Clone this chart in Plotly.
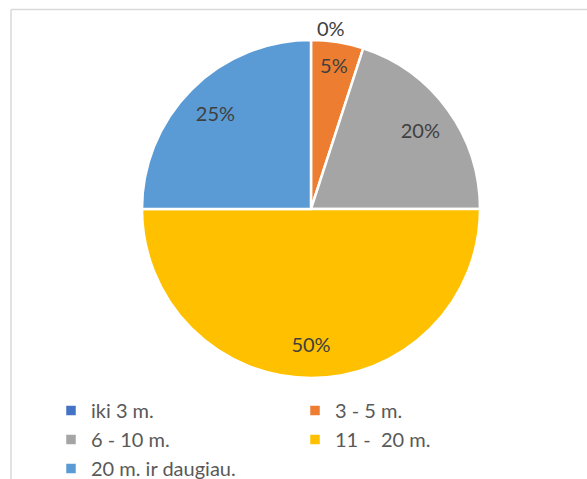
import plotly.graph_objects as go

labels = ["iki 3 m.", "3 - 5 m.", "6 - 10 m.", "11 -  20 m.", "20 m. ir daugiau."]
values = [0, 5, 20, 50, 25]
colors = ["#4472C4", "#ED7D31", "#A5A5A5", "#FFC000", "#5B9BD5"]

W, H = 587, 479
cx, cy, half = 311, 209, 169
domain = dict(x=[(cx - half) / W, (cx + half) / W], y=[1 - (cy + half) / H, 1 - (cy - half) / H])
label_font = dict(family="Lato, Carlito, sans-serif", size=20, color="#404040")

fig = go.Figure()
# main pie (slices + outside label for zero slice)
fig.add_trace(go.Pie(
    labels=labels,
    values=values,
    sort=False,
    direction="clockwise",
    rotation=0,
    marker=dict(colors=colors, line=dict(color="white", width=2.5)),
    texttemplate="%{value}%",
    textposition=["outside", "none", "none", "none", "none"],
    textfont=label_font,
    domain=domain,
    hoverinfo="label+percent",
))
# transparent ring carrying the inside labels further out, like the original
fig.add_trace(go.Pie(
    labels=labels,
    values=values,
    sort=False,
    direction="clockwise",
    rotation=0,
    hole=0.6,
    marker=dict(colors=["rgba(0,0,0,0)"] * len(values), line=dict(width=0)),
    texttemplate="%{value}%",
    textposition=["none", "inside", "inside", "inside", "inside"],
    insidetextorientation="horizontal",
    textfont=label_font,
    domain=domain,
    showlegend=False,
    hoverinfo="skip",
))

fig.update_layout(
    width=W, height=H,
    margin=dict(l=0, r=0, t=0, b=0, autoexpand=False),
    paper_bgcolor="white",
    plot_bgcolor="white",
    font=dict(family="Lato, Carlito, sans-serif", color="#595959"),
    showlegend=True,
    legend=dict(
        orientation="h",
        x=51 / W, xanchor="left",
        y=1 - 391 / H, yanchor="top",
        entrywidth=199, entrywidthmode="pixels",
        font=dict(size=20, color="#595959"),
        bgcolor="rgba(0,0,0,0)",
        traceorder="normal",
    ),
    shapes=[
        dict(type="line", xref="paper", yref="paper",
             x0=11 / W, x1=11 / W, y0=0, y1=1 - 9.5 / H,
             line=dict(color="#D9D9D9", width=1.5)),
        dict(type="line", xref="paper", yref="paper",
             x0=11 / W, x1=1, y0=1 - 9.5 / H, y1=1 - 9.5 / H,
             line=dict(color="#D9D9D9", width=1.5)),
    ],
)

fig.write_html(
    "out.html",
    config={"displayModeBar": False},
    post_script="document.body.style.margin='0';document.body.style.overflow='hidden';",
)
